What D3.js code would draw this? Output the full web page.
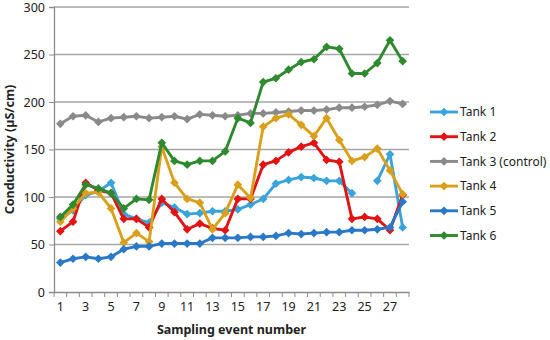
<!DOCTYPE html>
<html><head><meta charset="utf-8">
<script src="https://cdn.jsdelivr.net/npm/d3@7"></script>
<style>body{margin:0;background:#fff}svg{display:block}text{font-family:"Noto Sans",sans-serif}</style>
</head><body><svg id="c" width="550" height="340"></svg>
<script>
const events = d3.range(1, 29);
const yTicks = [0, 50, 100, 150, 200, 250, 300];
const seriesNames = ["Tank 1", "Tank 2", "Tank 3 (control)", "Tank 4", "Tank 5", "Tank 6"];
const tank1 = [77,86,102,106,115,82,77,73,94,89,82,83,85,85,87,92,98,114,118,121,120,117,117,104,null,117,145,68];
const tank2 = [64,74,115,107,104,77,77,68,98,84,66,72,67,65,98,98,134,138,147,153,157,139,137,77,79,77,65,102];
const tank3 = [177,185,186,179,183,184,185,183,184,185,182,187,186,185,186,188,188,189,190,191,191,192,194,194,195,197,201,198];
const tank4 = [74,88,104,105,88,52,62,53,153,115,98,94,66,83,113,99,174,183,187,176,164,183,160,138,142,151,128,103];
const tank5 = [31,35,37,35,37,45,48,48,51,51,51,51,57,57,57,58,58,59,62,61,62,63,63,65,65,66,68,95];
const tank6 = [79,92,113,109,104,88,98,97,157,138,134,138,138,148,183,178,221,225,234,242,245,258,256,230,230,241,265,243];
const seriesValues = [tank1, tank2, tank3, tank4, tank5, tank6];
const colors = ["#3aa3d9", "#e01414", "#8a8a8a", "#d9a01c", "#2a78c8", "#2f8a2f"];

const svg = d3.select("#c");
const L = 54, R = 409, T = 7, B = 292;
const x = d3.scaleBand().domain(events).range([L, R]);
const y = d3.scaleLinear().domain([0, 300]).range([B, T]);

// gridlines
svg.append("g").selectAll("line").data(yTicks.filter(d => d > 0)).join("line")
  .attr("x1", L).attr("x2", R).attr("y1", d => y(d)).attr("y2", d => y(d))
  .attr("stroke", "#a6a6a6").attr("stroke-width", 1.3);

// y axis
const ya = svg.append("g").attr("transform", `translate(${L},0)`)
  .call(d3.axisLeft(y).tickValues(yTicks).tickSize(5).tickPadding(4));
ya.select(".domain").attr("stroke", "#8c8c8c").attr("stroke-width", 1.3);
ya.selectAll(".tick line").attr("stroke", "#8c8c8c");
ya.selectAll("text").attr("font-size", 12.5).attr("fill", "#222").style("font-family", "'Noto Sans',sans-serif");

// x axis
const xa = svg.append("g").attr("transform", `translate(0,${B})`)
  .call(d3.axisBottom(x).tickValues(events).tickSize(0).tickPadding(10)
    .tickFormat(d => d % 2 === 1 ? d : ""));
xa.select(".domain").attr("stroke", "#8c8c8c").attr("stroke-width", 1.3);
xa.selectAll("text").attr("font-size", 12.5).attr("fill", "#222").style("font-family", "'Noto Sans',sans-serif");
// tick marks at category boundaries
const bounds = events.map(d => x(d)).concat([x(events[events.length - 1]) + x.bandwidth()]);
svg.append("g").selectAll("line").data(bounds).join("line")
  .attr("x1", d => d).attr("x2", d => d).attr("y1", B).attr("y2", B + 5)
  .attr("stroke", "#8c8c8c").attr("stroke-width", 1);

// axis titles
svg.append("text").attr("x", (L + R) / 2).attr("y", 334).attr("text-anchor", "middle")
  .attr("font-size", 12.5).attr("font-weight", "bold").attr("fill", "#222").text("Sampling event number");
svg.append("text").attr("transform", `translate(14,${(T + B) / 2}) rotate(-90)`).attr("text-anchor", "middle")
  .attr("font-size", 12.5).attr("font-weight", "bold").attr("fill", "#222").text("Conductivity (µS/cm)");

const cx = d => x(d) + x.bandwidth() / 2;
const line = d3.line().defined(d => d.v != null).x(d => cx(d.e)).y(d => y(d.v));
const marker = d3.symbol().type(d3.symbolSquare).size(38);

seriesValues.forEach((vals, i) => {
  const pts = events.map((e, j) => ({ e, v: vals[j] }));
  const g = svg.append("g");
  g.append("path").datum(pts).attr("d", line).attr("fill", "none")
    .attr("stroke", colors[i]).attr("stroke-width", 2.9).attr("stroke-linejoin", "round");
  g.selectAll("path.m").data(pts.filter(d => d.v != null)).join("path").attr("class", "m")
    .attr("d", marker)
    .attr("transform", d => `translate(${cx(d.e)},${y(d.v)}) rotate(45)`)
    .attr("fill", colors[i]);
});

// legend
const lg = svg.append("g");
seriesNames.forEach((n, i) => {
  const yy = 112 + i * 24.7;
  lg.append("line").attr("x1", 430).attr("x2", 458).attr("y1", yy).attr("y2", yy)
    .attr("stroke", colors[i]).attr("stroke-width", 2.9);
  lg.append("path").attr("d", marker())
    .attr("transform", `translate(444,${yy}) rotate(45)`).attr("fill", colors[i]);
  lg.append("text").attr("x", 460).attr("y", yy).attr("dy", "0.35em")
    .attr("font-size", 12).attr("fill", "#222").text(n);
});
</script></body></html>
